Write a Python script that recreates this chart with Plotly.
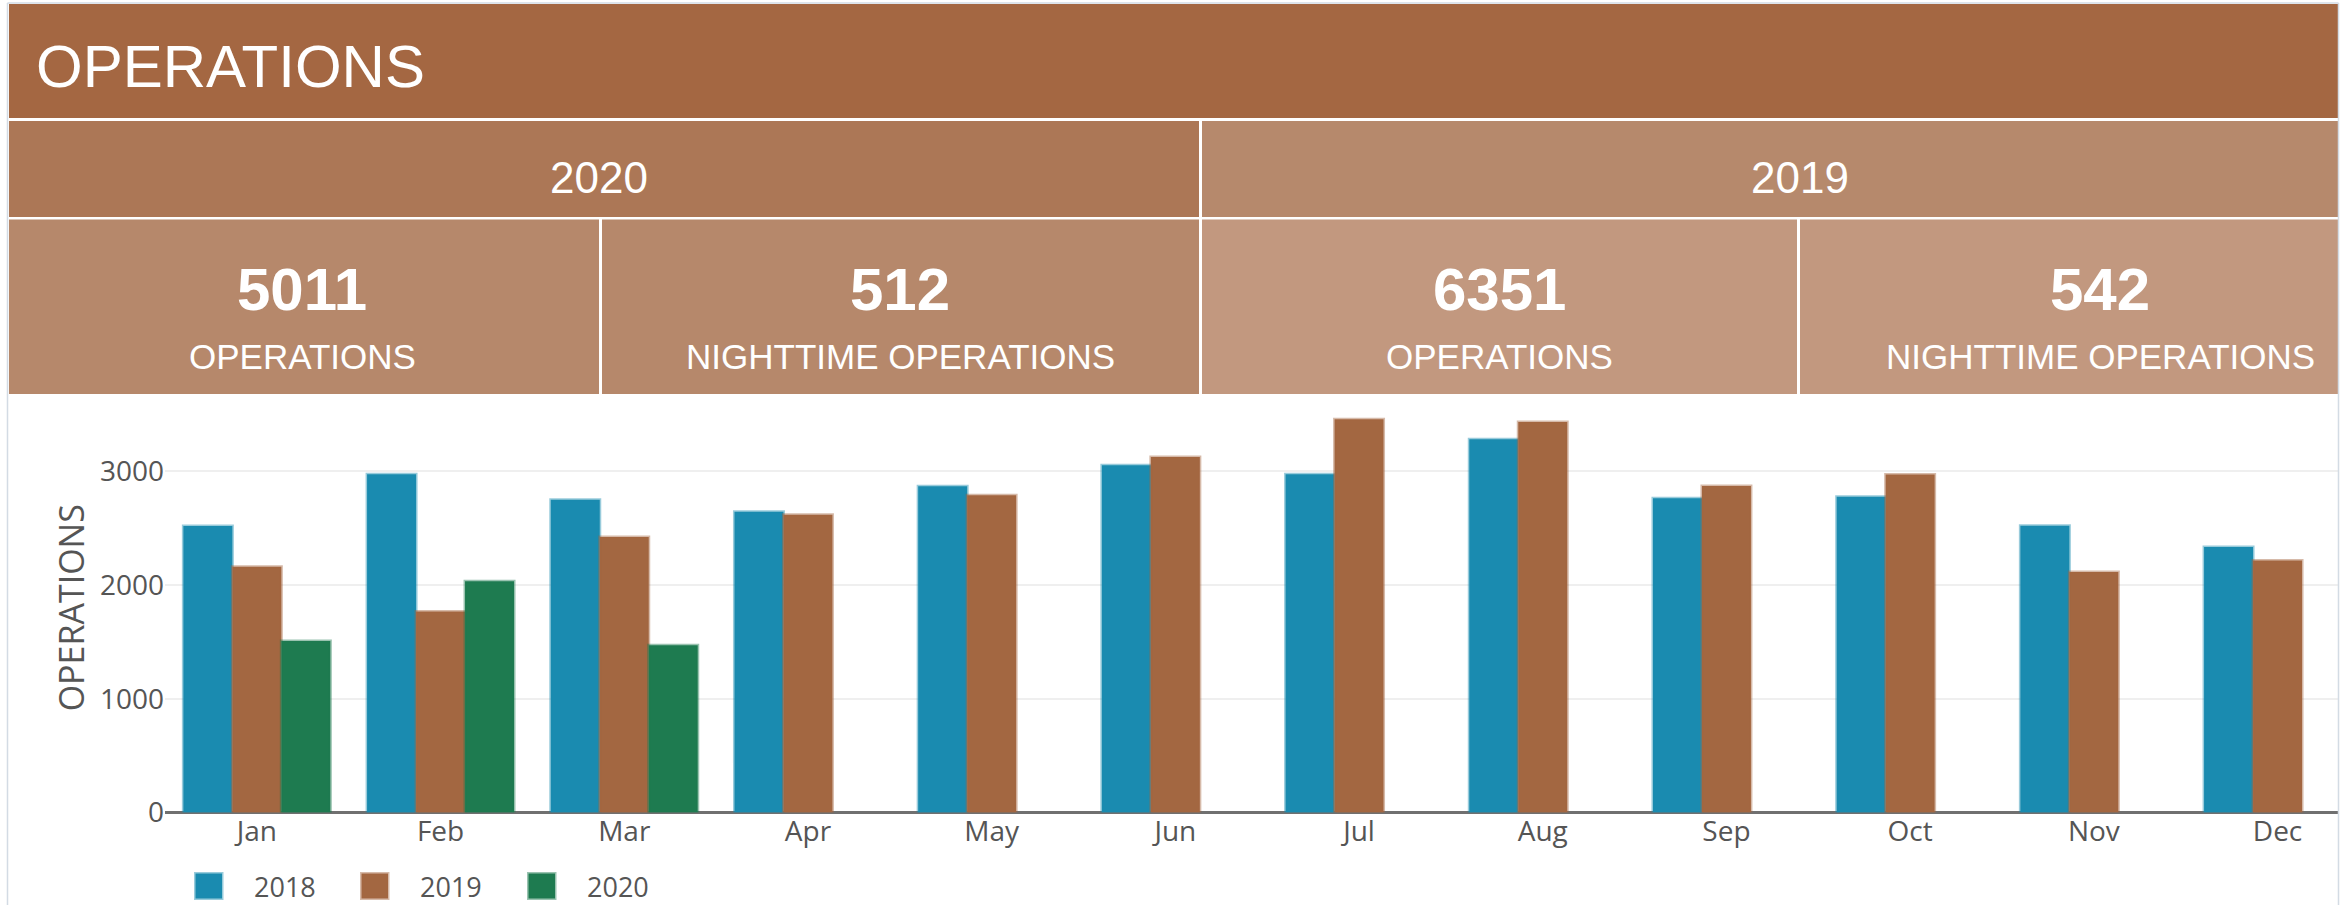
import plotly.graph_objects as go

W, H = 2346, 905

# ---------------- data ----------------
months = ["Jan", "Feb", "Mar", "Apr", "May", "Jun", "Jul", "Aug", "Sep", "Oct", "Nov", "Dec"]
ops_2018 = [2520, 2975, 2750, 2645, 2868, 3053, 2974, 3281, 2762, 2777, 2522, 2335]
ops_2019 = [2160, 1768, 2423, 2618, 2789, 3126, 3457, 3434, 2870, 2972, 2114, 2216]
ops_2020 = [1508, 2033, 1470]
series_names = ["2018", "2019", "2020"]
series_colors = ["#1A8BB0", "#A36741", "#1E7B50"]
series_line = ["rgba(26,139,176,0.45)", "rgba(163,103,65,0.45)", "rgba(30,123,80,0.45)"]

page_title = "OPERATIONS"
kpi_years = ["2020", "2019"]
kpi_values = ["5011", "512", "6351", "542"]
kpi_labels = ["OPERATIONS", "NIGHTTIME OPERATIONS", "OPERATIONS", "NIGHTTIME OPERATIONS"]
y_title = "OPERATIONS"
y_ticks = [0, 1000, 2000, 3000]

# ---------------- helpers (pixel -> paper) ----------------
def px(x):
    return x / W


def py(y):
    return 1 - y / H


ARIAL = "Liberation Sans, Arial, sans-serif"
UI = "Open Sans, Segoe UI, Noto Sans, sans-serif"

fig = go.Figure()
series_values = [ops_2018, ops_2019, ops_2020]
for name, vals, col, lcol in zip(series_names, series_values, series_colors, series_line):
    fig.add_trace(go.Bar(
        x=months[:len(vals)], y=vals, name=name,
        marker=dict(color=col, line=dict(color=lcol, width=3)),
        showlegend=False,
    ))

shapes = []
annotations = []

# header band
shapes.append(dict(type="rect", xref="paper", yref="paper", x0=px(9), x1=px(2346), y0=py(118), y1=py(4),
                   fillcolor="#A46742", line=dict(width=0), layer="below"))
annotations.append(dict(text=page_title, xref="paper", yref="paper", x=px(34), y=py(67),
                        xanchor="left", yanchor="middle", showarrow=False,
                        font=dict(family=ARIAL, size=60, color="white")))

# year bands
band_cols = ["#AC7756", "#B6896C"]
band_x = [(9, 1199), (1202, 2346)]
band_cx = [599, 1800]
for yr, (a, b), cx, c in zip(kpi_years, band_x, band_cx, band_cols):
    shapes.append(dict(type="rect", xref="paper", yref="paper", x0=px(a), x1=px(b), y0=py(217), y1=py(121),
                       fillcolor=c, line=dict(width=0), layer="below"))
    annotations.append(dict(text=yr, xref="paper", yref="paper", x=px(cx), y=py(177),
                            xanchor="center", yanchor="middle", showarrow=False,
                            font=dict(family=ARIAL, size=44, color="white")))

# KPI tiles
tile_x = [(9, 599), (602, 1199), (1202, 1797), (1800, 2346)]
tile_cx = [302, 900, 1499, 2100]
tile_cols = ["#B6886B", "#B6886B", "#C2987F", "#C2987F"]
for v, lab, (a, b), cx, c in zip(kpi_values, kpi_labels, tile_x, tile_cx, tile_cols):
    shapes.append(dict(type="rect", xref="paper", yref="paper", x0=px(a), x1=px(b), y0=py(394), y1=py(219.5),
                       fillcolor=c, line=dict(width=0), layer="below"))
    annotations.append(dict(text=v, xref="paper", yref="paper", x=px(cx), y=py(289),
                            xanchor="center", yanchor="middle", showarrow=False,
                            font=dict(family=ARIAL, size=60, color="white", weight="bold")))
    annotations.append(dict(text=lab, xref="paper", yref="paper", x=px(cx), y=py(356),
                            xanchor="center", yanchor="middle", showarrow=False,
                            font=dict(family=ARIAL, size=35, color="white")))

# manual legend
leg_x = [194, 360, 527]
for name, col, lcol, lx in zip(series_names, series_colors, series_line, leg_x):
    shapes.append(dict(type="rect", xref="paper", yref="paper", x0=px(lx + 1.5), x1=px(lx + 28), y0=py(898.5),
                       y1=py(873.5), fillcolor=col, line=dict(color=lcol, width=3), layer="above"))
    annotations.append(dict(text=name, xref="paper", yref="paper", x=px(lx + 58), y=py(886.3),
                            xanchor="left", yanchor="middle", showarrow=False,
                            font=dict(family=UI, size=27, color="#555555")))

# crop right side + frame border
shapes.append(dict(type="rect", xref="paper", yref="paper", x0=px(2339), x1=1.0, y0=0, y1=1,
                   fillcolor="white", line=dict(width=0), layer="above"))
for x0, y0, x1, y1 in [(7.5, 3, 7.5, 905), (7.5, 3, 2338.5, 3), (2338.5, 3, 2338.5, 905)]:
    shapes.append(dict(type="line", xref="paper", yref="paper", x0=px(x0), y0=py(y0), x1=px(x1), y1=py(y1),
                       line=dict(color="#D3DBE4", width=1.5), layer="above"))

step = 183.7
plot_w = W - 165
fig.update_layout(
    width=W, height=H, autosize=False,
    margin=dict(l=0, r=0, t=0, b=0, pad=0),
    paper_bgcolor="white", plot_bgcolor="white",
    barmode="group", bargap=0.2, bargroupgap=0,
    shapes=shapes, annotations=annotations,
    showlegend=False,
    xaxis=dict(domain=[px(165), 1.0], type="category", range=[-0.5, -0.5 + plot_w / step],
               showgrid=False, showline=False, zeroline=False, ticks="",
               tickfont=dict(family=UI, size=28, color="#555555"), automargin=False),
    yaxis=dict(domain=[py(812.4), py(812.4 - 3600 * 0.1137)], range=[0, 3600],
               tickvals=y_ticks, showgrid=True, gridcolor="#EFEFEF", gridwidth=2,
               zeroline=True, zerolinecolor="#707070", zerolinewidth=3,
               showline=False, ticks="",
               tickfont=dict(family=UI, size=28, color="#555555"), automargin=False,
               title=dict(text=y_title, font=dict(family=UI, size=34, color="#555555"), standoff=5)),
)

fig.write_html("out.html", config={"displayModeBar": False},
               post_script="document.body.style.margin='0';document.body.style.overflow='hidden';")
